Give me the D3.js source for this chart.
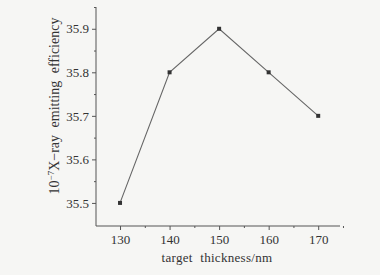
<!DOCTYPE html>
<html>
<head>
<meta charset="utf-8">
<script src="https://cdn.jsdelivr.net/npm/d3@7"></script>
<style>
  body { margin: 0; background: #f6f6f4; }
  svg { display: block; }
  text { font-family: "Liberation Serif", "DejaVu Serif", serif; fill: #333; }
</style>
</head>
<body>
<div id="chart"></div>
<script>
// data
var thickness = [130, 140, 150, 160, 170];
var efficiency = [35.5, 35.8, 35.9, 35.8, 35.7];
var xTicks = [130, 140, 150, 160, 170];
var yTicks = [35.5, 35.6, 35.7, 35.8, 35.9];

var width = 380, height = 275;
var svg = d3.select('#chart').append('svg')
  .attr('width', width)
  .attr('height', height);

var x = d3.scaleLinear().domain([125.15, 174.4]).range([96, 340]);
var y = d3.scaleLinear().domain([35.447, 35.95]).range([226, 7]);

var axisColor = '#555';

// y axis
var yAxis = d3.axisLeft(y).tickValues(yTicks).tickSize(4).tickPadding(3)
  .tickFormat(d3.format('.1f'));
var gy = svg.append('g').attr('transform', 'translate(96,0)').call(yAxis);
gy.select('.domain').attr('d', 'M0,' + y.range()[1] + 'V' + y.range()[0]);
var yMinor = d3.axisLeft(y).tickValues(yTicks.map(function(d) { return d + 0.05; }))
  .tickSize(2).tickFormat('');
svg.append('g').attr('transform', 'translate(96,0)').call(yMinor).select('.domain').remove();

// x axis
var xAxis = d3.axisBottom(x).tickValues(xTicks).tickSize(4).tickPadding(5);
var gx = svg.append('g').attr('transform', 'translate(0,226)').call(xAxis);
gx.select('.domain').attr('d', 'M' + x.range()[0] + ',0H' + x.range()[1]);
var xMinor = d3.axisBottom(x).tickValues(xTicks.map(function(d) { return d + 5; }))
  .tickSize(2).tickFormat('');
svg.append('g').attr('transform', 'translate(0,226)').call(xMinor).select('.domain').remove();

svg.selectAll('.domain, .tick line').attr('stroke', axisColor).attr('stroke-width', 1);
svg.selectAll('.tick text')
  .attr('font-family', '"Liberation Serif", "DejaVu Serif", serif')
  .attr('font-size', 13)
  .attr('fill', '#333');

// line
var line = d3.line()
  .x(function(d, i) { return x(thickness[i]); })
  .y(function(d) { return y(d); });
svg.append('path')
  .datum(efficiency)
  .attr('d', line)
  .attr('fill', 'none')
  .attr('stroke', '#666')
  .attr('stroke-width', 1.1);

svg.selectAll('rect.pt')
  .data(efficiency)
  .enter().append('rect')
  .attr('class', 'pt')
  .attr('x', function(d, i) { return x(thickness[i]) - 2; })
  .attr('y', function(d) { return y(d) - 2; })
  .attr('width', 4)
  .attr('height', 4)
  .attr('fill', '#333');

// axis titles
svg.append('text')
  .attr('x', 217)
  .attr('y', 262)
  .attr('text-anchor', 'middle')
  .attr('font-size', 13)
  .attr('letter-spacing', 0.3)
  .attr('word-spacing', 4)
  .text('target thickness/nm');

var yt = svg.append('text')
  .attr('transform', 'translate(59,106) rotate(-90)')
  .attr('text-anchor', 'middle')
  .attr('font-size', 14)
  .attr('word-spacing', 4);
yt.append('tspan').text('10');
yt.append('tspan').attr('dy', -5).attr('font-size', 9).text('\u22127');
yt.append('tspan').attr('dy', 5).text('X\u2212ray emitting efficiency');
</script>
</body>
</html>
